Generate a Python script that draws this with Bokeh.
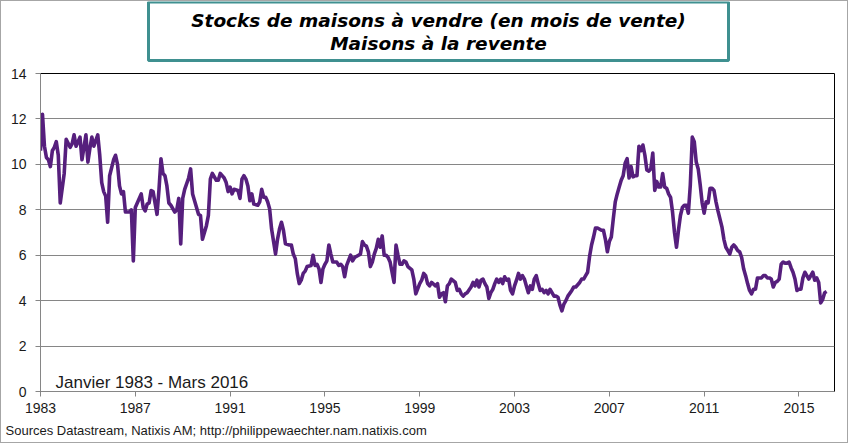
from bokeh.plotting import figure
from bokeh.layouts import column
from bokeh.models import FixedTicker, Label, Range1d, ColumnDataSource, Title
from bokeh.core.properties import value
from bokeh.embed import file_html
from bokeh.resources import INLINE

# Months counted from January 1983 (0 = Jan 1983, 398 = Mar 2016)
month_index = [
    0, 1, 2, 3, 4, 5, 6, 7, 8, 9, 10, 12, 13, 15, 16, 17, 18, 20, 21, 23,
    24, 25, 26, 27, 29, 30, 31, 32, 33, 34, 35, 37, 38, 39, 40, 41, 42, 43, 45, 46,
    47, 48, 49, 51, 52, 53, 54, 55, 56, 57, 59, 60, 61, 62, 63, 64, 65, 66, 68, 69,
    70, 71, 72, 73, 75, 76, 77, 78, 80, 81, 82, 84, 85, 86, 87, 89, 90, 91, 93,
    94, 95, 96, 97, 98, 100, 101, 102, 103, 104, 105, 106, 107, 108, 110, 111, 112, 113, 114, 115,
    116, 117, 118, 119, 120, 121, 122, 123, 124, 126, 127, 128, 129, 130, 131, 132, 133, 134, 135, 137,
    138, 139, 140, 141, 142, 143, 144, 145, 146, 147, 148, 150, 151, 152, 153, 154, 155, 157, 158, 159,
    161, 162, 163, 164, 165, 166, 167, 168, 169, 170, 171, 172, 173, 174, 175, 176, 177, 179, 180, 181,
    182, 183, 184, 185, 186, 188, 189,
    190, 192, 193, 194, 195, 196, 197, 198, 200, 201, 202, 203, 204, 205, 206, 207, 208, 210, 211, 212,
    213, 214, 215, 216, 218, 219, 220, 221, 222, 223, 224, 225, 226, 227, 228, 229, 230, 231, 232, 233,
    234, 235, 236, 237, 238, 239, 240, 241, 242, 243, 244, 245, 246, 247, 248, 249, 250, 251, 252, 253,
    254, 255, 256, 257, 258, 260, 261, 262, 263, 264, 265, 266, 267, 269, 270, 271, 272, 273, 274, 275,
    276, 277, 278, 279, 280, 281, 282, 284, 285,
    286, 287, 288, 289, 290, 291, 292, 293, 294, 295, 296, 297, 298, 299, 300, 301, 302, 303, 304, 305,
    306, 307, 308, 309, 310, 311, 312, 313, 314, 315, 316, 317, 318, 319, 320, 321, 322, 323, 324, 325,
    326, 327, 328, 329, 330, 331, 332, 333, 334, 335, 336, 337, 338, 339, 340, 341, 342, 343, 344, 345,
    346, 347, 348, 349, 350, 351, 352, 353, 354, 355, 356, 357, 358, 359, 360, 361, 362, 363, 364, 365,
    366, 367, 368, 369, 370, 371, 372, 373, 374, 375, 376, 377, 378, 379, 380, 381, 382, 383, 384, 385,
    386, 387, 388, 389, 390, 391, 392, 393, 394, 395, 396, 397, 398,
]

months_of_sales = [
    10.6, 12.2, 10.8, 10.3, 10.2, 9.9, 10.6, 10.75, 11.0, 10.4, 8.3, 9.6, 11.1, 10.75, 10.9, 11.3, 10.8, 11.2, 10.2, 11.3,
    10.1, 10.7, 11.2, 10.8, 11.3, 10.4, 9.2, 8.8, 8.6, 7.45, 9.5, 10.2, 10.4, 10.0, 9.05, 8.7, 8.8, 7.9, 7.9, 8.0,
    5.75, 8.1, 8.3, 8.7, 8.1, 7.95, 8.25, 8.3, 8.85, 8.8, 7.8, 8.9, 10.25, 9.6, 9.5, 9.05, 8.3, 8.2, 7.9, 8.0,
    8.5, 6.5, 8.5, 8.9, 9.4, 9.8, 8.7, 8.4, 7.8, 7.75, 6.7, 7.3, 7.75, 9.35, 9.6, 9.3, 9.3, 9.6, 9.4,
    9.2, 8.8, 9.0, 8.7, 8.9, 8.85, 8.5, 9.35, 9.5, 9.35, 9.05, 8.4, 8.7, 8.25, 8.2, 8.35, 8.9, 8.55, 8.55, 8.35,
    8.05, 7.15, 6.6, 6.05, 6.7, 7.15, 7.45, 7.1, 6.5, 6.45, 6.45, 6.05, 5.85, 5.2, 4.75, 4.9, 5.2, 5.3, 5.5, 5.55,
    6.0, 5.55, 5.6, 5.4, 4.8, 5.4, 5.6, 5.75, 6.45, 6.05, 5.7, 5.7, 5.55, 5.6, 5.5, 5.05, 5.55, 6.0, 5.75, 5.9,
    6.0, 6.05, 6.6, 6.45, 6.4, 6.15, 5.5, 5.7, 6.05, 6.3, 6.7, 6.35, 6.85, 6.0, 6.0, 5.9, 5.7, 4.8, 6.45, 6.0,
    5.6, 5.6, 5.75, 5.7, 5.5, 5.35, 4.95,
    4.3, 4.75, 4.9, 5.2, 5.1, 4.75, 4.65, 4.8, 4.65, 4.75, 4.15, 4.3, 4.35, 3.95, 4.65, 4.75, 4.95, 4.8, 4.45, 4.5,
    4.3, 4.2, 4.3, 4.35, 4.6, 4.8, 4.65, 4.9, 4.6, 4.9, 4.95, 4.75, 4.6, 4.1, 4.35, 4.5, 4.75, 4.95, 4.8, 4.95,
    4.75, 5.05, 4.9, 4.95, 4.45, 4.3, 4.65, 4.9, 5.2, 4.95, 5.1, 4.95, 4.65, 4.35, 4.65, 4.5, 4.95, 5.1, 4.75, 4.45,
    4.5, 4.35, 4.45, 4.3, 4.5, 4.2, 4.2, 4.15, 3.8, 3.55, 3.85, 4.0, 4.2, 4.45, 4.6, 4.6, 4.7, 4.8, 4.95, 4.95,
    5.1, 5.25, 5.95, 6.45, 6.8, 7.2, 7.2, 7.1, 7.1,
    6.7, 6.15, 6.6, 6.8, 7.6, 8.35, 8.7, 9.0, 9.3, 9.5, 10.05, 10.25, 9.4, 9.9, 9.45, 9.5, 9.5, 10.8, 10.6, 10.85,
    10.4, 9.75, 9.7, 9.8, 10.5, 8.85, 9.25, 9.0, 9.0, 9.6, 9.0, 8.95, 8.7, 8.55, 7.9, 7.0, 6.35, 7.1, 7.75, 8.1,
    8.2, 8.2, 7.85, 9.1, 11.2, 11.0, 10.1, 9.8, 9.1, 8.3, 7.85, 8.35, 8.3, 8.95, 8.95, 8.85, 8.35, 7.95, 7.6, 7.25,
    6.7, 6.35, 6.2, 6.05, 6.35, 6.45, 6.35, 6.2, 6.15, 5.9, 5.4, 5.1, 4.75, 4.45, 4.3, 4.5, 4.5, 5.0, 5.0, 5.0,
    5.1, 5.1, 5.0, 5.0, 4.95, 4.6, 4.8, 4.85, 4.95, 5.6, 5.7, 5.65, 5.65, 5.7, 5.45, 5.25, 4.95, 4.45, 4.5, 4.5,
    5.0, 5.25, 5.1, 4.95, 5.1, 5.25, 4.9, 5.0, 4.8, 3.9, 4.05, 4.35, 4.4,
]

year_ticks = [1983, 1987, 1991, 1995, 1999, 2003, 2007, 2011, 2015]
value_ticks = [0, 2, 4, 6, 8, 10, 12, 14]
title_lines = ["Stocks de maisons à vendre (en mois de vente)", "Maisons à la revente"]
period_text = "Janvier 1983 - Mars 2016"
source_text = "Sources Datastream, Natixis AM; http://philippewaechter.nam.natixis.com"

START_YEAR = 1983
dec_year = [START_YEAR + m / 12.0 for m in month_index]
src = ColumnDataSource(data=dict(x=dec_year, y=months_of_sales))

W = 846
TOP_H = 64
MAIN_H = 377
BL, BR = 39, W - 833
GRID = "#868686"

# ---- title strip: frame uses the same side borders as the chart; data units = pixels ----
t = figure(width=W, height=TOP_H, output_backend="svg", toolbar_location=None,
           x_range=Range1d(BL, W - BR), y_range=Range1d(TOP_H, 0),
           x_axis_location=None, y_axis_location=None,
           min_border_left=BL, min_border_right=BR, min_border_top=0, min_border_bottom=0,
           background_fill_color="white", border_fill_color="white")
t.grid.visible = False
t.outline_line_color = None
t.quad(left=[147], right=[727], top=[0.5], bottom=[59], fill_color="white",
       line_color="#3f9090", line_width=3)
title_src = ColumnDataSource(data=dict(x=[437, 437], y=[19, 42], text=title_lines))
t.text("x", "y", text="text", source=title_src, text_align="center", text_baseline="middle",
       text_font=value("DejaVu Sans"), text_font_style="bold italic",
       text_font_size="18.5px", text_color="black")

# ---- main chart ----
p = figure(width=W, height=MAIN_H, output_backend="svg", toolbar_location=None,
           x_range=Range1d(1983, 2016.5), y_range=Range1d(0, 14),
           min_border_left=BL, min_border_right=BR, min_border_top=8, min_border_bottom=MAIN_H - 326,
           background_fill_color="white", border_fill_color="white")

p.outline_line_color = "black"
p.outline_line_width = 1

p.xgrid.visible = False
p.ygrid.ticker = FixedTicker(ticks=value_ticks)
p.ygrid.grid_line_color = GRID
p.ygrid.grid_line_width = 1

for ax in (p.xaxis, p.yaxis):
    ax.axis_line_color = GRID
    ax.major_tick_line_color = GRID
    ax.major_tick_out = 5
    ax.major_tick_in = 0
    ax.minor_tick_line_color = None
    ax.major_label_text_font = "Liberation Sans"
    ax.major_label_text_font_size = "14px"
    ax.major_label_text_color = "#1a1a1a"

p.xaxis.ticker = FixedTicker(ticks=year_ticks)
p.yaxis.ticker = FixedTicker(ticks=value_ticks)
p.xaxis.major_label_standoff = 6
p.yaxis.major_label_standoff = 9

p.line("x", "y", source=src, line_color="#561f7d", line_width=3.6, line_join="round")

p.add_layout(Label(x=15, y=9, x_units="screen", y_units="screen", text=period_text,
                   text_align="left", text_baseline="middle",
                   text_font="Liberation Sans", text_font_size="17px", text_color="#1a1a1a"))

p.add_layout(Title(text=source_text, align="left", offset=-35, standoff=10,
                   text_font="Liberation Sans", text_font_style="normal",
                   text_font_size="13px", text_color="#1a1a1a"), "below")

layout = column(t, p, styles={"border": "1px solid #a6a6a6"})

open("out.html", "w").write(file_html(layout, INLINE))
